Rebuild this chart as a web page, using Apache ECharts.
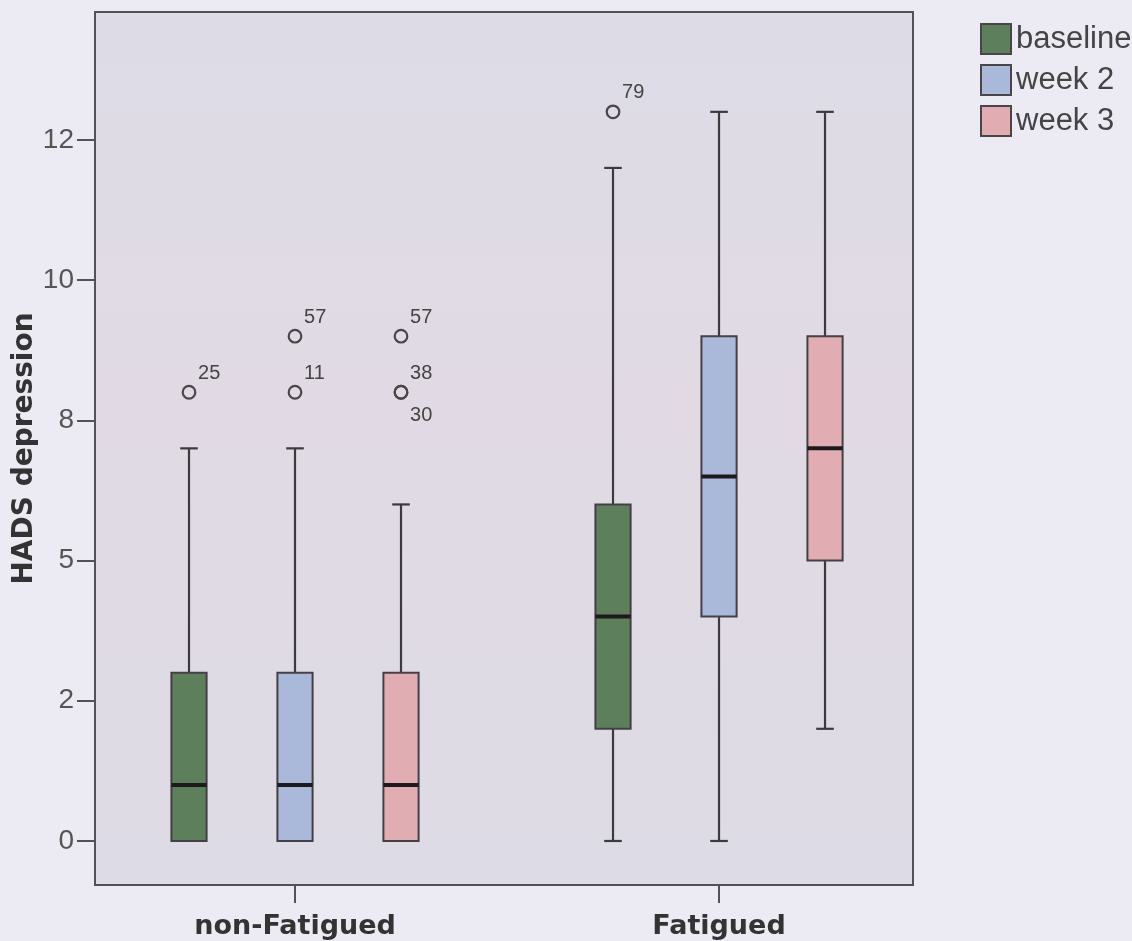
<!DOCTYPE html>
<html>
<head>
<meta charset="utf-8">
<script src="https://cdn.jsdelivr.net/npm/echarts@6/dist/echarts.min.js"></script>
<style>
html,body{margin:0;padding:0;background:#ecebf4;}
#chart{width:1132px;height:941px;}
</style>
</head>
<body>
<div id="chart"></div>
<script>
// ---- data ----
const categories = ['non-Fatigued', 'Fatigued'];
const groups = ['baseline', 'week 2', 'week 3'];
// [min, Q1, median, Q3, max] per category
const baseline = [[0, 0, 1, 3, 7], [0, 2, 4, 6, 12]];
const week2    = [[0, 0, 1, 3, 7], [0, 4, 6.5, 9, 13]];
const week3    = [[0, 0, 1, 3, 6], [2, 5, 7, 9, 13]];
// outliers: [categoryIndex, value, case label]
const baselineOutliers = [[0, 8, '25'], [1, 13, '79']];
const week2Outliers    = [[0, 9, '57'], [0, 8, '11']];
const week3Outliers    = [[0, 9, '57'], [0, 8, '38'], [0, 8, '30']];
const yTicks = [0, 2.5, 5, 7.5, 10, 12.5];
const yTickLabels = ['0', '2', '5', '8', '10', '12'];
const groupColors = ['#5d7f5b', '#aab8d9', '#e1adb2'];

const boxStats = [baseline, week2, week3];
const outlierSets = [baselineOutliers, week2Outliers, week3Outliers];

const GROUP_STEP = 0.25;   // distance between boxes inside a cluster (x units)
const BOX_W = 0.083;       // box width (x units)

function boxRenderer(gi) {
  return function (params, api) {
    const cat = api.value(0);
    const cx = api.coord([cat, 0])[0] + (gi - 1) * api.size([GROUP_STEP, 0])[0];
    const hw = api.size([BOX_W, 0])[0] / 2;
    const y = k => api.coord([cat, api.value(k)])[1];
    const yMin = y(1), yQ1 = y(2), yMed = y(3), yQ3 = y(4), yMax = y(5);
    const lineStyle = { stroke: '#3d3a3e', lineWidth: 2.2 };
    const children = [];
    if (yMax < yQ3 - 0.5) {
      children.push({ type: 'line', shape: { x1: cx, y1: yQ3, x2: cx, y2: yMax }, style: lineStyle });
      children.push({ type: 'line', shape: { x1: cx - hw / 2, y1: yMax, x2: cx + hw / 2, y2: yMax }, style: lineStyle });
    }
    if (yMin > yQ1 + 0.5) {
      children.push({ type: 'line', shape: { x1: cx, y1: yQ1, x2: cx, y2: yMin }, style: lineStyle });
      children.push({ type: 'line', shape: { x1: cx - hw / 2, y1: yMin, x2: cx + hw / 2, y2: yMin }, style: lineStyle });
    }
    children.push({
      type: 'rect',
      shape: { x: cx - hw, y: yQ3, width: hw * 2, height: yQ1 - yQ3 },
      style: { fill: groupColors[gi], stroke: '#454045', lineWidth: 2 }
    });
    children.push({
      type: 'line',
      shape: { x1: cx - hw, y1: yMed, x2: cx + hw, y2: yMed },
      style: { stroke: '#1c1a1c', lineWidth: 4 }
    });
    return { type: 'group', children: children };
  };
}

function outlierRenderer(gi) {
  const list = outlierSets[gi];
  return function (params, api) {
    const idx = params.dataIndex;
    const item = list[idx];
    const cat = api.value(0);
    const cx = api.coord([cat, 0])[0] + (gi - 1) * api.size([GROUP_STEP, 0])[0];
    const cy = api.coord([cat, api.value(1)])[1];
    // duplicate value in same cluster -> label goes below
    let dup = false;
    for (let j = 0; j < idx; j++) {
      if (list[j][0] === item[0] && list[j][1] === item[1]) dup = true;
    }
    return {
      type: 'group',
      children: [
        { type: 'circle', shape: { cx: cx, cy: cy, r: 6.3 }, style: { fill: 'none', stroke: '#4a4549', lineWidth: 2.2 } },
        {
          type: 'text', x: cx + 9, y: dup ? cy + 23 : cy - 19,
          style: { text: item[2], fill: '#444', font: '20px "Liberation Sans", Arial, sans-serif', align: 'left', verticalAlign: 'middle' }
        }
      ]
    };
  };
}

const series = [];
groups.forEach((g, gi) => {
  series.push({
    name: g,
    type: 'custom',
    renderItem: boxRenderer(gi),
    itemStyle: { color: groupColors[gi] },
    encode: { x: 0, y: [1, 2, 3, 4, 5] },
    data: categories.map((c, ci) => [ci].concat(boxStats[gi][ci])),
    z: 2
  });
});
groups.forEach((g, gi) => {
  series.push({
    name: g + ' outliers',
    type: 'custom',
    renderItem: outlierRenderer(gi),
    encode: { x: 0, y: 1 },
    data: outlierSets[gi].map(o => [o[0], o[1]]),
    z: 3
  });
});

const chart = echarts.init(document.getElementById('chart'));
chart.setOption({
  animation: false,
  backgroundColor: '#ecebf4',
  grid: {
    left: 95, top: 12, width: 818, height: 873,
    containLabel: false,
    outerBoundsMode: 'none',
    show: true,
    backgroundColor: {
      type: 'linear', x: 0, y: 0, x2: 0, y2: 1,
      colorStops: [
        { offset: 0, color: '#dddce6' },
        { offset: 0.45, color: '#e1dae4' },
        { offset: 1, color: '#dddbe5' }
      ]
    },
    borderColor: '#555055',
    borderWidth: 2
  },
  legend: {
    orient: 'vertical',
    left: 975, top: 18,
    itemWidth: 30, itemHeight: 30, itemGap: 9,
    icon: 'rect',
    data: groups,
    itemStyle: { borderColor: '#4a454a', borderWidth: 2 },
    textStyle: { fontFamily: '"Liberation Sans", Arial, sans-serif', fontSize: 31, color: '#444' }
  },
  xAxis: {
    type: 'value',
    min: -0.4717, max: 1.4575,
    splitLine: { show: false },
    axisLine: { show: true, onZero: false, lineStyle: { color: '#555055', width: 2 } },
    axisTick: { show: true, customValues: [0, 1], length: 18, lineStyle: { color: '#555055', width: 2 } },
    axisLabel: {
      customValues: [0, 1],
      margin: 28,
      formatter: v => categories[Math.round(v)],
      fontFamily: '"DejaVu Sans", sans-serif', fontWeight: 'bold', fontSize: 27, color: '#333'
    }
  },
  yAxis: {
    type: 'value',
    min: -0.785, max: 14.78,
    name: 'HADS depression',
    nameLocation: 'middle',
    nameGap: 56,
    nameMoveOverlap: false,
    nameTextStyle: { fontFamily: '"DejaVu Sans", sans-serif', fontWeight: 'bold', fontSize: 28, color: '#333' },
    splitLine: { show: false },
    axisLine: { show: true, onZero: false, lineStyle: { color: '#555055', width: 2 } },
    axisTick: { show: true, customValues: yTicks, length: 18, lineStyle: { color: '#555055', width: 2 } },
    axisLabel: {
      customValues: yTicks,
      margin: 21,
      formatter: v => yTickLabels[yTicks.indexOf(v)],
      fontFamily: '"Liberation Sans", Arial, sans-serif', fontSize: 28, color: '#555'
    }
  },
  series: series
});
</script>
</body>
</html>
